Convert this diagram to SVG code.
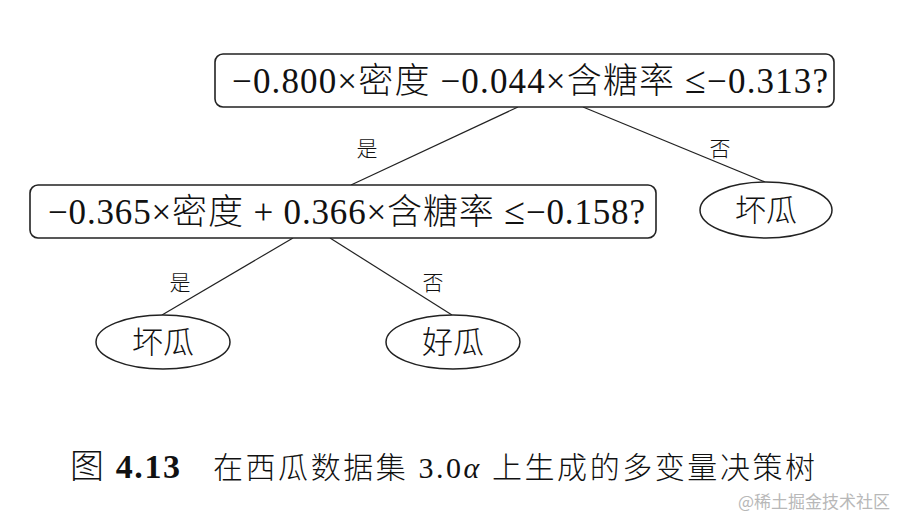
<svg xmlns="http://www.w3.org/2000/svg" width="902" height="523" viewBox="0 0 902 523">
<style>
.box{fill:#fff;stroke:#222;stroke-width:1.6}
.ell{fill:#fff;stroke:#222;stroke-width:1.5}
.edge{stroke:#222;stroke-width:1.2;fill:none}
.t{font-family:"Liberation Serif","Noto Sans CJK SC",serif;fill:#111}
.c{font-family:"Noto Sans CJK SC",sans-serif;font-weight:300}
.le{font-size:38px}
.lbl{font-family:"Noto Sans CJK SC",sans-serif;font-size:21px;font-weight:300;fill:#111}
</style>
<rect width="902" height="523" fill="#fff"/>
<g id="connectors">
<line class="edge" x1="518" y1="107" x2="351" y2="185"/>
<line class="edge" x1="583" y1="107" x2="765" y2="182"/>
<line class="edge" x1="293" y1="238" x2="162" y2="315"/>
<line class="edge" x1="330" y1="238" x2="452" y2="315"/>
<text class="lbl" x="367" y="156" text-anchor="middle">是</text>
<text class="lbl" x="720" y="156" text-anchor="middle">否</text>
<text class="lbl" x="180" y="290" text-anchor="middle">是</text>
<text class="lbl" x="433" y="290" text-anchor="middle">否</text>
</g>
<g id="root">
<rect class="box" x="215" y="54" width="619" height="53" rx="8"/>
<text class="t" x="232" y="93" font-size="35" textLength="596" lengthAdjust="spacing">−0.800×<tspan class="c">密度</tspan> −0.044×<tspan class="c">含糖率</tspan> <tspan class="le">≤</tspan>−0.313?</text>
</g>
<g id="node2">
<rect class="box" x="30" y="185" width="626" height="53" rx="8"/>
<text class="t" x="48" y="224" font-size="35" textLength="597" lengthAdjust="spacing">−0.365×<tspan class="c">密度</tspan> + 0.366×<tspan class="c">含糖率</tspan> <tspan class="le">≤</tspan>−0.158?</text>
</g>
<g id="leaf1">
<ellipse class="ell" cx="766" cy="210" rx="66" ry="28"/>
<text class="t c" x="766" y="221" font-size="31" text-anchor="middle">坏瓜</text>
</g>
<g id="leaf2">
<ellipse class="ell" cx="163" cy="342" rx="67" ry="27"/>
<text class="t c" x="163" y="353" font-size="31" text-anchor="middle">坏瓜</text>
</g>
<g id="leaf3">
<ellipse class="ell" cx="453" cy="342" rx="67" ry="27"/>
<text class="t c" x="453" y="353" font-size="31" text-anchor="middle">好瓜</text>
</g>
<text class="t" x="70" y="478" font-size="34" font-weight="bold" textLength="110" lengthAdjust="spacing"><tspan class="c" font-weight="bold">图</tspan> 4.13</text>
<text class="t" x="213" y="478" font-size="30" textLength="602" lengthAdjust="spacing"><tspan class="c">在西瓜数据集</tspan> 3.0<tspan font-style="italic">α</tspan> <tspan class="c">上生成的多变量决策树</tspan></text>
<text x="890" y="508" font-family="Noto Sans CJK SC,sans-serif" font-size="17" fill="#b8b8b8" text-anchor="end">@稀土掘金技术社区</text>
</svg>
